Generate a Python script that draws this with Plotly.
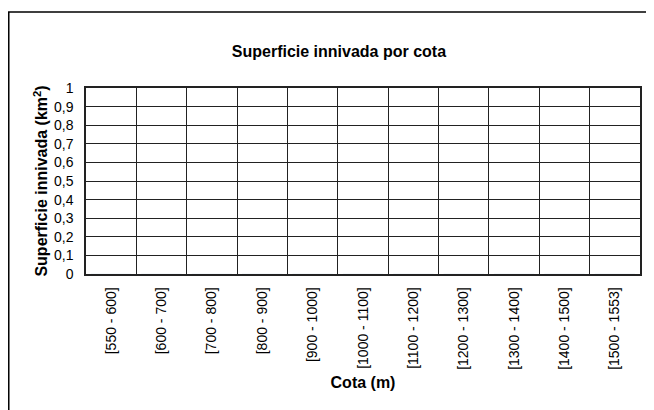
import plotly.graph_objects as go

cotas = ["[550 - 600]", "[600 - 700]", "[700 - 800]", "[800 - 900]", "[900 - 1000]",
         "[1000 - 1100]", "[1100 - 1200]", "[1200 - 1300]", "[1300 - 1400]",
         "[1400 - 1500]", "[1500 - 1553]"]
superficie = [0, 0, 0, 0, 0, 0, 0, 0, 0, 0, 0]
y_ticks = [0, 0.1, 0.2, 0.3, 0.4, 0.5, 0.6, 0.7, 0.8, 0.9, 1]
y_labels = ["0", "0,1", "0,2", "0,3", "0,4", "0,5", "0,6", "0,7", "0,8", "0,9", "1"]

font = "Liberation Sans, Arial, sans-serif"

fig = go.Figure(go.Bar(x=cotas, y=superficie, marker_color="#4F81BD"))

fig.update_layout(
    width=654, height=410,
    margin=dict(l=78, r=22, t=80, b=144),
    paper_bgcolor="white", plot_bgcolor="white",
    font=dict(family=font, size=14, color="black"),
    showlegend=False,
    title=dict(text="<b>Superficie innivada por cota</b>", font=dict(size=16),
               x=0.506, xref="container", xanchor="center",
               y=1 - 43 / 410, yref="container", yanchor="middle"),
)

fig.update_xaxes(
    tickangle=-90, tickson="boundaries", showgrid=True, gridcolor="#222", gridwidth=1,
    showline=True, linecolor="#222", linewidth=1.5, mirror=True, ticks="",
    tickfont=dict(size=14), ticklabelstandoff=6,
    title=dict(text="<b>Cota (m)</b>", font=dict(size=16), standoff=8),
)
fig.update_yaxes(
    range=[0, 1], tickvals=y_ticks, ticktext=y_labels,
    showgrid=True, gridcolor="#222", gridwidth=1,
    showline=True, linecolor="#222", linewidth=1.5, mirror=True, ticks="",
    tickfont=dict(size=14), zeroline=False, ticklabelstandoff=8,
    title=dict(text="<b>Superficie innivada (km<sup>2</sup>)</b>", font=dict(size=16), standoff=2),
)

fig.add_shape(type="rect", xref="paper", yref="paper",
              x0=-0.1394, x1=1.2, y0=-1.0, y1=1.4086,
              line=dict(color="black", width=1.5), layer="below")

fig.write_html("out.html")
